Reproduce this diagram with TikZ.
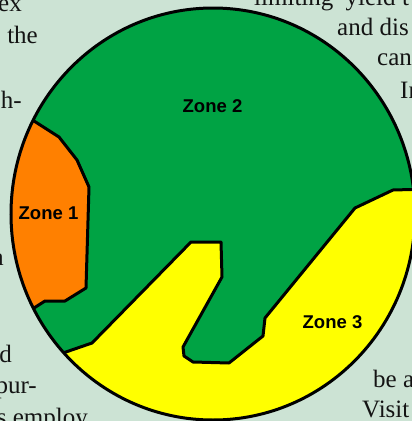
\documentclass[tikz,border=0pt]{standalone}
\usepackage{fontspec}
\setmainfont{Liberation Serif}
\newfontfamily\zonefont{Liberation Sans}
\definecolor{bgc}{RGB}{204,227,212}
\definecolor{textc}{RGB}{20,20,20}
\definecolor{zgreen}{RGB}{0,163,68}
\definecolor{zorange}{RGB}{255,128,0}
\definecolor{zyellow}{RGB}{255,255,0}
\begin{document}
\begin{tikzpicture}[x=1pt,y=-1pt,
  bgtext/.style={font=\fontsize{25}{30}\selectfont, text=textc, inner sep=0pt},
  zonelabel/.style={font=\zonefont\bfseries\fontsize{18.5}{20}\selectfont, inner sep=0pt, anchor=base},
  zoneedge/.style={line width=3pt, line join=round}]
\fill[bgc] (0,0) rectangle (412,421);
\useasboundingbox (0,0) rectangle (412,421);
% background text fragments (left column)
\node[bgtext, anchor=base east] (l1) at (22,11) {ex};
\node[bgtext, anchor=base east] (l2) at (38,43) {the};
\node[bgtext, anchor=base east] (l3) at (22,108) {h-};
\node[bgtext, anchor=base east] (l4) at (4,265) {a};
\node[bgtext, anchor=base east] (l5) at (12,362) {d};
\node[bgtext, anchor=base east] (l6) at (37,393) {pur-};
\node[bgtext, anchor=base east] (l7) at (88,425) {s employ};
% background text fragments (right column)
\node[bgtext, anchor=base west] (r1) at (254,5) {limiting\hspace{6pt} yield};
\node[bgtext, anchor=base west] (r1b) at (402,5) {t};
\node[bgtext, anchor=base west] (r2) at (337,35) {and dis};
\node[bgtext, anchor=base west] (r3) at (377,65) {can};
\node[bgtext, anchor=base west] (r4) at (400,98) {In};
\node[bgtext, anchor=base west] (r5) at (373,387) {be a};
\node[bgtext, anchor=base west] (r6) at (362,417) {Visit};
% zones
\begin{scope}
\clip (213,214) ellipse [x radius=202, y radius=206];
\fill[zgreen] (-20,-20) rectangle (440,440);
\draw[zoneedge, fill=zorange] (0,99) -- (34,121) -- (59,137) -- (77,160) -- (89,187)
  -- (86,288) -- (65,301) -- (45,301) -- (34,308) -- (0,329.6) -- (-20,329.6) -- (-20,99) -- cycle;
\draw[zoneedge, fill=zyellow] (20,368) -- (63,353) -- (92,343) -- (191,242) -- (221,242)
  -- (222,277) -- (183,347) -- (184,356) -- (193,362) -- (229,363) -- (263,336)
  -- (265,318) -- (355,208) -- (393,190) -- (430,189) -- (430,440) -- (20,440) -- cycle;
\end{scope}
\draw[line width=3pt] (213,214) ellipse [x radius=202, y radius=206];
\node[zonelabel] (z1) at (48.5,219) {Zone 1};
\node[zonelabel] (z2) at (212.5,112) {Zone 2};
\node[zonelabel] (z3) at (332.5,328) {Zone 3};
\end{tikzpicture}
\end{document}
